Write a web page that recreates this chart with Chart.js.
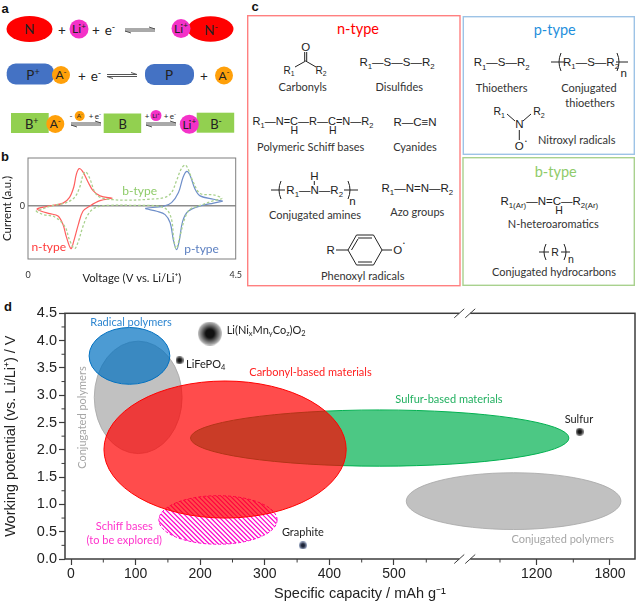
<!DOCTYPE html>
<html>
<head>
<meta charset="utf-8">
<script src="https://cdn.jsdelivr.net/npm/chart.js@4"></script>
<style>
body { margin: 0; background: #fff; }
#page { position: relative; width: 637px; height: 603px; overflow: hidden; }
#page svg, #page canvas { position: absolute; }
</style>
</head>
<body>
<div id="page">
  <svg id="art" width="637" height="603" style="left:0;top:0"></svg>
  <canvas id="cv" width="245" height="142" style="left:0;top:145px"></canvas>
  <canvas id="map" width="637" height="308" style="left:0;top:295px"></canvas>
</div>
<script>
// panel b, cyclic voltammograms
var nTypeV = [1.83,1.56,1.41,1.30,1.19,1.11,1.05,0.99,0.90,0.76,0.47,0.20,0.29,0.47,0.65,0.76,0.83,0.93,0.99,1.09,1.19,1.34,1.56,1.83];
var nTypeI = [0.16,0.21,0.32,0.50,0.71,0.78,0.67,0.39,0.18,0.06,0,-0.06,-0.11,-0.16,-0.21,-0.39,-0.64,-0.89,-0.74,-0.39,-0.11,0,0.11,0.16];
var bTypeV = [0.17,0.33,0.58,0.80,0.90,1.01,1.09,1.19,1.30,1.45,1.70,2.42,2.79,3.00,3.11,3.16,3.21,3.29,3.40,3.51,3.73,4.02,4.20,4.02,3.73,3.58,3.42,3.33,3.22,3.11,2.97,2.64,2.13,1.85,1.56,1.45,1.34,1.25,1.19,1.12,1.01,0.83,0.54,0.17];
var bTypeI = [-0.11,-0.18,-0.23,-0.43,-0.71,-0.89,-0.74,-0.43,-0.18,-0.04,0.01,0.01,0,-0.07,-0.28,-0.71,-0.89,-0.64,-0.25,-0.07,0.01,0.11,0.16,0.23,0.26,0.50,0.85,0.79,0.53,0.28,0.18,0.14,0.12,0.13,0.18,0.28,0.57,0.71,0.64,0.39,0.18,0.07,0.01,-0.11];
var pTypeV = [4.22,4.02,3.73,3.62,3.51,3.44,3.36,3.26,3.11,2.93,2.55,2.79,2.97,3.08,3.15,3.22,3.28,3.35,3.47,3.73,4.02,4.22];
var pTypeI = [0.10,0.14,0.21,0.35,0.64,0.72,0.60,0.28,0.07,-0.01,-0.05,-0.11,-0.18,-0.35,-0.71,-0.91,-0.71,-0.32,-0.11,0,0.06,0.10];

// panel d, material regions (capacity in mAh/g, potential in V)
var regionNames = ['Conjugated polymers', 'Conjugated polymers', 'Radical polymers', 'Schiff bases', 'Sulfur-based materials', 'Carbonyl-based materials'];
var regionCapMin = [36, 519, 28, 136, 185, 51];
var regionCapMax = [172, 1890, 153, 319, 1464, 426];
var regionVMin = [1.93, 0.54, 3.20, 0.27, 1.70, 0.75];
var regionVMax = [3.99, 1.58, 4.24, 1.16, 2.73, 3.26];

// panel d, inorganic reference materials
var materialNames = ['Li(NixMnyCoz)O2', 'LiFePO4', 'Graphite', 'Sulfur'];
var materialCap = [215, 168, 359, 1552];
var materialV = [4.13, 3.64, 0.25, 2.33];

var capTicks = [0, 100, 200, 300, 400, 500, 1200, 1800];
var capMinorTicks = [50, 150, 250, 350, 450, 550, 900, 1500];
var potentialMinorTicks = [0.25, 0.75, 1.25, 1.75, 2.25, 2.75, 3.25, 3.75, 4.25];

var CALIBRI = 'Lato';
var ARIAL = '"Liberation Sans"';

function pieces(s) {
    return Array.from(s.matchAll(/([_^])\{(.*?)\}|[^_^]+/g)).map(function(m) {
        return m[1] ? {k: m[1], t: m[2]} : {k: '', t: m[0]};
    });
}

// ---------- svg helpers for panels a and c ----------
var svg = '';
function txt(x, y, s, size, fill, anchor, family, weight) {
    var out = '', shift = 0;
    pieces(s).forEach(function(p) {
        var want = p.k == '_' ? size * 0.28 : p.k == '^' ? -size * 0.38 : 0;
        var fs = p.k ? size * 0.68 : size;
        out += '<tspan dy="' + (want - shift) + '" font-size="' + fs + '">' + p.t.replace(/</g, '&lt;') + '</tspan>';
        shift = want;
    });
    svg += '<text x="' + x + '" y="' + (y + size * 0.35) + '" text-anchor="' + (anchor || 'middle') + '" fill="' + (fill || '#222') +
        '" font-family=\'' + (family || CALIBRI) + '\' font-weight="' + (weight || 400) + '">' + out + '</text>';
}
function atom(x, y, s, size) { txt(x, y, s, size || 11.5, '#222', 'middle', ARIAL); }
function cap(x, y, s) { txt(x, y, s, 11, '#333'); }
function ell(cx, cy, rx, ry, fill) { svg += '<ellipse cx="' + cx + '" cy="' + cy + '" rx="' + rx + '" ry="' + ry + '" fill="' + fill + '"/>'; }
function box(x, y, w, h, fill, r) { svg += '<rect x="' + x + '" y="' + y + '" width="' + w + '" height="' + h + '" rx="' + (r || 0) + '" fill="' + fill + '"/>'; }
function frame(x, y, w, h, col) { svg += '<rect x="' + x + '" y="' + y + '" width="' + w + '" height="' + h + '" fill="none" stroke="' + col + '" stroke-width="1.4"/>'; }
function line(x1, y1, x2, y2, col, w) { svg += '<line x1="' + x1 + '" y1="' + y1 + '" x2="' + x2 + '" y2="' + y2 + '" stroke="' + (col || '#222') + '" stroke-width="' + (w || 1) + '"/>'; }
function eqm(x1, x2, y) {
    line(x1, y - 1, x2, y - 1, '#555', 1);
    line(x2, y - 1, x2 - 6, y - 3, '#555', 1);
    line(x1, y + 1, x2, y + 1, '#555', 1);
    line(x1, y + 1, x1 + 6, y + 3, '#555', 1);
}
function paren(x, y, h, d) {
    svg += '<path d="M' + (x + d * 2) + ' ' + (y - h) + ' Q' + (x - d * 2) + ' ' + y + ' ' + (x + d * 2) + ' ' + (y + h) + '" fill="none" stroke="#222" stroke-width="1"/>';
}

var RED = '#ff0000', PINK = '#f432c8', BLUE = '#4472c4', ORANGE = '#ffa00a', LIME = '#92d050';

// panel a
txt(5, 8, 'a', 13, '#111', 'middle', ARIAL, 700);
ell(29.5, 29, 23, 13, RED); txt(29.5, 29, 'N', 13.5);
txt(62, 30, '+', 13.5); ell(79, 29, 9.5, 9.5, PINK); txt(79, 29, 'Li^{+}', 12);
txt(96, 30, '+', 13.5); txt(110, 30, 'e^{-}', 13.5); eqm(125, 155, 30);
ell(210.5, 29, 23, 12.7, RED); txt(211, 30, 'N^{-}', 13.5);
ell(181, 28.6, 9.5, 9.5, PINK); txt(181, 28.6, 'Li^{+}', 12);

box(6.7, 63.5, 47.5, 21, BLUE, 9); txt(33, 75, 'P^{+}', 13.5);
ell(61, 75, 9, 9, ORANGE); txt(61, 75, 'A^{-}', 12);
txt(82, 76, '+', 13.5); txt(96, 76, 'e^{-}', 13.5); eqm(107, 137, 75.5);
box(145, 64, 49, 21, BLUE, 9); txt(169, 75, 'P', 13.5);
txt(204, 76, '+', 13.5); ell(224, 75.5, 9, 9, ORANGE); txt(224, 75.5, 'A^{-}', 12);

box(11, 113, 37.7, 20, LIME); txt(31.7, 124, 'B^{+}', 13);
ell(55.3, 124, 9, 9, ORANGE); txt(55.3, 124, 'A^{-}', 12);
txt(71, 116, '-', 8); ell(79.7, 116, 5, 5, ORANGE); txt(79.7, 116, 'A^{-}', 6.5);
txt(91, 116, '+', 8); txt(98, 116, 'e^{-}', 8); eqm(71, 101, 124);
box(103.7, 113.5, 37.5, 19.5, LIME); txt(122.7, 124, 'B', 13);
txt(147, 116, '+', 8); ell(156, 115.5, 5.5, 5.5, PINK); txt(156, 115.5, 'Li^{+}', 6.5);
txt(166, 116, '+', 8); txt(173, 116, 'e^{-}', 8); eqm(146, 176, 124);
box(196.7, 112.7, 37.5, 20, LIME); txt(216, 124, 'B^{-}', 13);
ell(189.3, 124.3, 9.5, 9.5, PINK); txt(189.3, 124.3, 'Li^{+}', 12);

// panel b and d letters
txt(5, 156, 'b', 13, '#111', 'middle', ARIAL, 700);
txt(8, 306, 'd', 13, '#111', 'middle', ARIAL, 700);

// panel c
txt(255, 6, 'c', 13, '#111', 'middle', ARIAL, 700);
frame(247.7, 15.7, 212.3, 270, '#ff8080');
frame(463.3, 16.7, 171, 137.6, '#9dc3e6');
frame(463, 157.7, 171.3, 127.6, '#a9d18e');
txt(358, 29, 'n-type', 14.5, '#ff0000');
txt(554.7, 30, 'p-type', 14.5, '#1f8fdc');
txt(555.7, 171.7, 'b-type', 14.5, '#8fcb6a');

// carbonyl
atom(305.7, 46.7, 'O'); atom(289, 70, 'R_{1}', 10); atom(321, 70, 'R_{2}', 10);
line(304.7, 52, 304.7, 61); line(306.7, 52, 306.7, 61);
line(295, 67, 305.7, 61); line(305.7, 61, 316, 67);
cap(302.7, 87.3, 'Carbonyls');
atom(397, 61.7, 'R_{1}—S—S—R_{2}');
cap(399.3, 87.3, 'Disulfides');
// schiff
atom(313, 120.7, 'R_{1}—N=C—R—C=N—R_{2}', 11);
atom(294.3, 130.7, 'H', 10.5); atom(332.7, 130.7, 'H', 10.5);
cap(310.7, 146.7, 'Polymeric Schiff bases');
atom(415, 122.3, 'R—C≡N');
cap(415, 146.7, 'Cyanides');
// amines
atom(314.7, 190, 'R_{1}—N—R_{2}');
atom(314.3, 176, 'H'); line(314.3, 181, 314.3, 185);
paren(279, 190, 9, 1); paren(350, 190, 9, -1);
line(271, 190, 285, 190); line(344, 190, 358, 190);
atom(352.5, 201, 'n');
cap(315, 215, 'Conjugated amines');
atom(417.3, 187.7, 'R_{1}—N=N—R_{2}');
cap(417.3, 211.7, 'Azo groups');
// phenoxyl ring
var ring = [[348, 250], [356.5, 235], [373.5, 235], [382, 250], [373.5, 265], [356.5, 265]];
ring.forEach(function(p, i) { var q = ring[(i + 1) % 6]; line(p[0], p[1], q[0], q[1]); });
line(358, 238, 372, 238); line(358, 262, 372, 262); line(351.5, 250, 358, 239);
atom(330.7, 250, 'R'); line(336, 250, 348, 250); line(382, 250, 392, 250);
atom(397.7, 250, 'O'); atom(404, 243, '•', 5);
cap(362.7, 276.3, 'Phenoxyl radicals');

// p-type
atom(501.7, 62.3, 'R_{1}—S—R_{2}');
cap(501.7, 88.3, 'Thioethers');
atom(591, 62, 'R_{1}—S—R_{2}');
paren(559, 62, 9, 1); paren(619, 62, 9, -1);
line(551, 62, 564, 62); line(616, 62, 628, 62);
atom(623.7, 72.7, 'n');
cap(589, 88.3, 'Conjugated'); cap(590, 103, 'thioethers');
atom(519.3, 124.3, 'N'); atom(499.3, 111, 'R_{1}', 10.5); atom(539, 111, 'R_{2}', 10.5);
atom(519.3, 146, 'O'); atom(526, 141, '•', 5);
line(507, 114, 515, 121); line(531, 114, 523, 121); line(519.3, 130, 519.3, 140);
cap(576.7, 140, 'Nitroxyl radicals');

// b-type
atom(549.3, 201, 'R_{1(Ar)}—N=C—R_{2(Ar)}');
atom(559, 210.7, 'H', 10.5);
cap(553.3, 224, 'N-heteroaromatics');
atom(555, 252.3, 'R', 10.5);
paren(544, 252, 8, 1); paren(566, 252, 8, -1);
line(539, 252, 549, 252); line(561, 252, 570, 252);
atom(571, 259.7, 'n', 10.5);
cap(554, 272.3, 'Conjugated hydrocarbons');

document.getElementById('art').innerHTML = svg;

// ---------- canvas helpers ----------
function richWidth(ctx, s, size, family) {
    var w = 0;
    pieces(s).forEach(function(p) {
        ctx.font = (p.k ? size * 0.68 : size) + 'px ' + family;
        w += ctx.measureText(p.t).width;
    });
    return w;
}
function drawRich(ctx, s, x, y, size, color, family, align) {
    var w = richWidth(ctx, s, size, family);
    var cx = align == 'left' ? x : x - w / 2;
    ctx.fillStyle = color;
    ctx.textAlign = 'left';
    ctx.textBaseline = 'middle';
    pieces(s).forEach(function(p) {
        ctx.font = (p.k ? size * 0.68 : size) + 'px ' + family;
        var dy = p.k == '_' ? size * 0.28 : p.k == '^' ? -size * 0.35 : 0;
        ctx.fillText(p.t, cx, y + dy);
        cx += ctx.measureText(p.t).width;
    });
}
var notesPlugin = {
    id: 'notes',
    afterDatasetsDraw: function(chart, args, opts) {
        var ctx = chart.ctx;
        opts.items.forEach(function(n) {
            var px = chart.scales.x.getPixelForValue(n.x), py = chart.scales.y.getPixelForValue(n.y);
            ctx.save();
            if (n.rotate) {
                ctx.translate(px, py); ctx.rotate(n.rotate);
                drawRich(ctx, n.text, 0, 0, n.size, n.color, CALIBRI, n.align);
            } else {
                drawRich(ctx, n.text, px, py, n.size, n.color, CALIBRI, n.align);
            }
            ctx.restore();
        });
    }
};

// ---------- panel b ----------
function pairs(xs, ys) { return xs.map(function(v, i) { return {x: v, y: ys[i]}; }); }

new Chart(document.getElementById('cv'), {
    type: 'scatter',
    data: {
        datasets: [
            {label: 'b-type', data: pairs(bTypeV, bTypeI), showLine: true, borderColor: '#a9d18e', borderWidth: 1.3, borderDash: [2.5, 2], tension: 0.35, pointRadius: 0},
            {label: 'n-type', data: pairs(nTypeV, nTypeI), showLine: true, borderColor: '#ff5f5f', borderWidth: 1.2, tension: 0.35, pointRadius: 0},
            {label: 'p-type', data: pairs(pTypeV, pTypeI), showLine: true, borderColor: '#6f8fc9', borderWidth: 1.2, tension: 0.35, pointRadius: 0}
        ]
    },
    options: {
        responsive: false,
        animation: false,
        layout: {autoPadding: false, padding: {top: 13, right: 9.3}},
        plugins: {
            legend: {display: false},
            tooltip: {enabled: false},
            notes: {items: [
                {text: 'n-type', x: 0.45, y: -0.85, size: 12, color: '#ff3b3b'},
                {text: 'b-type', x: 2.42, y: 0.30, size: 12, color: '#8fcb6a'},
                {text: 'p-type', x: 3.76, y: -0.89, size: 12, color: '#5b7fc0'}
            ]}
        },
        scales: {
            x: {
                min: 0, max: 4.5,
                afterBuildTicks: function(a) { a.ticks = [{value: 0}, {value: 4.5}]; },
                afterFit: function(a) { a.height = 28; a.paddingRight = 0; },
                grid: {display: false},
                border: {display: false},
                ticks: {maxRotation: 0, padding: 3, color: '#333', font: {family: CALIBRI, size: 9}, callback: function(v) { return String(v); }},
                title: {display: true, text: 'Voltage (V vs. Li/Li⁺)', color: '#222', padding: {top: 0, bottom: 2}, font: {family: CALIBRI, size: 11.3}}
            },
            y: {
                min: -1.106, max: 1,
                afterBuildTicks: function(a) { a.ticks = [{value: 0}]; },
                afterFit: function(a) { a.width = 28; },
                grid: {display: true, drawTicks: false, color: '#8c8c8c', lineWidth: 1.6},
                border: {display: false},
                ticks: {padding: 3, color: '#333', font: {family: CALIBRI, size: 9}, callback: function(v) { return String(v); }},
                title: {display: true, text: 'Current (a.u.)', color: '#222', padding: {top: 0, bottom: 0}, font: {family: CALIBRI, size: 11.5}}
            }
        }
    },
    plugins: [notesPlugin, {
        id: 'boxFrame',
        afterDraw: function(chart) {
            var a = chart.chartArea, ctx = chart.ctx;
            ctx.save();
            ctx.strokeStyle = '#7f7f7f';
            ctx.lineWidth = 1;
            ctx.strokeRect(a.left, a.top, a.right - a.left, a.bottom - a.top);
            ctx.restore();
        }
    }]
});

// ---------- panel d ----------
// x axis with a break: [capacity, fraction of the axis length]
var capStops = [[-9.3, 0], [600, 0.6905], [750, 0.731], [2005, 1]];

class BrokenScale extends Chart.LinearScale {
    getPixelForValue(v) {
        var i = 1;
        while (i < capStops.length - 1 && v > capStops[i][0]) i++;
        var a = capStops[i - 1], b = capStops[i];
        var f = a[1] + (v - a[0]) / (b[0] - a[0]) * (b[1] - a[1]);
        return this.left + f * (this.right - this.left);
    }
    getValueForPixel(px) {
        var f = (px - this.left) / (this.right - this.left), i = 1;
        while (i < capStops.length - 1 && f > capStops[i][1]) i++;
        var a = capStops[i - 1], b = capStops[i];
        return a[0] + (f - a[1]) / (b[1] - a[1]) * (b[0] - a[0]);
    }
    drawTitle() {
        // title sits a little right of the axis middle
        var l = this.left;
        this.left += 20;
        super.drawTitle();
        this.left = l;
    }
}
BrokenScale.id = 'broken';
BrokenScale.defaults = Chart.LinearScale.defaults;
Chart.register(BrokenScale);

function regionPath(ctx, chart, i) {
    var sx = chart.scales.x, sy = chart.scales.y;
    var x1 = sx.getPixelForValue(regionCapMin[i]), x2 = sx.getPixelForValue(regionCapMax[i]);
    var y1 = sy.getPixelForValue(regionVMax[i]), y2 = sy.getPixelForValue(regionVMin[i]);
    ctx.beginPath();
    ctx.ellipse((x1 + x2) / 2, (y1 + y2) / 2, (x2 - x1) / 2, (y2 - y1) / 2, 0, 0, Math.PI * 2);
    return {x1: x1, x2: x2, y1: y1, y2: y2};
}
var regionStyles = [
    {fill: 'rgba(166,166,166,0.7)', stroke: 'rgba(166,166,166,0.8)'},
    {fill: 'rgba(166,166,166,0.7)', stroke: 'rgba(166,166,166,0.8)'},
    {fill: 'rgba(0,112,192,0.7)', stroke: '#0070c0'},
    {hatch: '#ff00cc'},
    {fill: 'rgba(0,176,80,0.7)', stroke: '#00b050'},
    {fill: 'rgba(255,0,0,0.7)', stroke: '#ff0000'}
];
var regionsPlugin = {
    id: 'regions',
    beforeDatasetsDraw: function(chart) {
        var ctx = chart.ctx;
        regionNames.forEach(function(name, i) {
            var st = regionStyles[i];
            ctx.save();
            var b = regionPath(ctx, chart, i);
            if (st.hatch) {
                ctx.save();
                ctx.clip();
                ctx.strokeStyle = st.hatch;
                ctx.lineWidth = 1.2;
                var h = b.y2 - b.y1;
                for (var x = b.x1 - h; x < b.x2; x += 4.6) {
                    ctx.beginPath();
                    ctx.moveTo(x, b.y1);
                    ctx.lineTo(x + h, b.y2);
                    ctx.stroke();
                }
                ctx.restore();
                regionPath(ctx, chart, i);
                ctx.setLineDash([3, 2]);
                ctx.strokeStyle = st.hatch;
                ctx.lineWidth = 1;
                ctx.stroke();
            } else {
                ctx.fillStyle = st.fill;
                ctx.fill();
                ctx.strokeStyle = st.stroke;
                ctx.lineWidth = 1;
                ctx.stroke();
            }
            ctx.restore();
        });
    }
};
var framePlugin = {
    id: 'axisFrame',
    afterDraw: function(chart) {
        var ctx = chart.ctx, a = chart.chartArea, sx = chart.scales.x, sy = chart.scales.y;
        ctx.save();
        ctx.strokeStyle = '#3c3c3c';
        ctx.lineWidth = 1.5;
        ctx.strokeRect(a.left, a.top, a.right - a.left, a.bottom - a.top);
        // minor ticks
        ctx.lineWidth = 1;
        ctx.beginPath();
        capMinorTicks.forEach(function(v) {
            var p = sx.getPixelForValue(v);
            ctx.moveTo(p, a.bottom); ctx.lineTo(p, a.bottom + 3.5);
        });
        potentialMinorTicks.forEach(function(v) {
            var p = sy.getPixelForValue(v);
            ctx.moveTo(a.left, p); ctx.lineTo(a.left - 3.5, p);
        });
        ctx.stroke();
        // axis break marks
        var mid = sx.getPixelForValue(640);
        [a.top, a.bottom].forEach(function(y) {
            ctx.fillStyle = '#fff';
            ctx.fillRect(mid - 5.5, y - 2, 11, 4);
            [-5.5, 5.5].forEach(function(d) {
                ctx.beginPath();
                ctx.moveTo(mid + d - 5, y + 4.5);
                ctx.lineTo(mid + d + 5, y - 4.5);
                ctx.stroke();
            });
        });
        ctx.restore();
    }
};

function dot(r, inner, outer) {
    var c = document.createElement('canvas');
    c.width = c.height = r * 2;
    var g = c.getContext('2d');
    var grad = g.createRadialGradient(r, r, 0, r, r, r);
    grad.addColorStop(0, inner);
    grad.addColorStop(0.35, inner);
    grad.addColorStop(1, outer);
    g.fillStyle = grad;
    g.arc(r, r, r, 0, Math.PI * 2);
    g.fill();
    return c;
}
var dotStyles = [dot(12, '#111111', '#c4c4c4'), dot(4, '#111111', '#8a8a8a'), dot(4, '#1c2438', '#9aa8c4'), dot(4, '#111111', '#8a8a8a')];

new Chart(document.getElementById('map'), {
    type: 'scatter',
    data: {
        datasets: [{
            label: 'Inorganic materials',
            data: pairs(materialCap, materialV),
            pointStyle: dotStyles,
            pointRadius: 4
        }]
    },
    options: {
        responsive: false,
        animation: false,
        layout: {autoPadding: false, padding: {top: 18.3, right: 2}},
        plugins: {
            legend: {display: false},
            tooltip: {enabled: false},
            notes: {items: [
                {text: 'Radical polymers', x: 93, y: 4.34, size: 11, color: '#2e86d0'},
                {text: 'Li(Ni_{x}Mn_{y}Co_{z})O_{2}', x: 241, y: 4.19, size: 11, color: '#222', align: 'left'},
                {text: 'LiFePO_{4}', x: 178, y: 3.57, size: 11, color: '#222', align: 'left'},
                {text: 'Carbonyl-based materials', x: 276, y: 3.42, size: 11, color: '#ff2020', align: 'left'},
                {text: 'Sulfur-based materials', x: 585, y: 2.93, size: 11, color: '#22b060'},
                {text: 'Sulfur', x: 1546, y: 2.56, size: 11, color: '#222'},
                {text: 'Graphite', x: 359, y: 0.49, size: 11, color: '#222'},
                {text: 'Conjugated polymers', x: 1413, y: 0.36, size: 11, color: '#a6a6a6'},
                {text: 'Conjugated polymers', x: 17.5, y: 2.59, size: 11, color: '#a6a6a6', rotate: -Math.PI / 2},
                {text: 'Schiff bases', x: 82.5, y: 0.59, size: 11, color: '#ff33cc'},
                {text: '(to be explored)', x: 82.5, y: 0.335, size: 11, color: '#ff33cc'}
            ]}
        },
        scales: {
            x: {
                type: 'broken',
                min: -9.3, max: 2005,
                afterBuildTicks: function(a) { a.ticks = capTicks.map(function(v) { return {value: v}; }); },
                afterFit: function(a) { a.height = 44; a.paddingRight = 0; },
                grid: {drawOnChartArea: false, tickLength: 6, tickColor: '#3c3c3c', tickWidth: 1.2},
                border: {display: false},
                ticks: {autoSkip: false, maxRotation: 0, padding: 1, color: '#222', font: {family: ARIAL, size: 14}, callback: function(v) { return String(v); }},
                title: {display: true, text: 'Specific capacity / mAh g⁻¹', color: '#222', padding: 0, font: {family: ARIAL, size: 14.5}}
            },
            y: {
                min: 0, max: 4.5,
                afterFit: function(a) { a.width = 65; },
                grid: {drawOnChartArea: false, tickLength: 6, tickColor: '#3c3c3c', tickWidth: 1.2},
                border: {display: false},
                ticks: {stepSize: 0.5, padding: 2, color: '#222', font: {family: ARIAL, size: 14.5}, callback: function(v) { return v.toFixed(1); }},
                title: {display: true, text: 'Working potential (vs. Li/Li⁺) / V', color: '#222', padding: {top: 2, bottom: 0}, font: {family: ARIAL, size: 14.5}}
            }
        }
    },
    plugins: [regionsPlugin, notesPlugin, framePlugin]
});
</script>
</body>
</html>
